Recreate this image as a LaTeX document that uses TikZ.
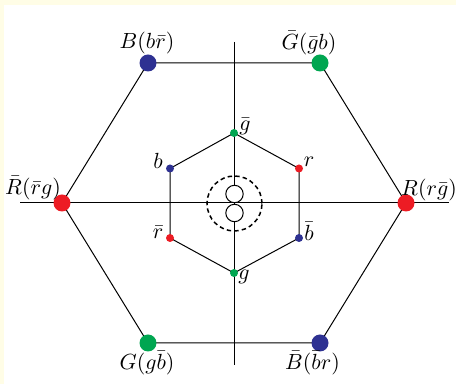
\documentclass[tikz,border=0pt]{standalone}
\definecolor{qred}{RGB}{237,28,36}
\definecolor{qblue}{RGB}{46,49,146}
\definecolor{qgreen}{RGB}{0,166,81}
\definecolor{cream}{RGB}{255,253,230}
\begin{document}
\begin{tikzpicture}[x=0.5pt,y=-0.5pt,
  bigdot/.style={circle,inner sep=0pt,minimum size=8.5pt},
  smalldot/.style={circle,inner sep=0pt,minimum size=4pt},
  lbl/.style={inner sep=0pt,font=\fontsize{10.8}{13}\selectfont},
  thin line/.style={line width=0.5pt,black},
  ring/.style={line width=0.75pt,black,dash pattern=on 2.2pt off 1.6pt}]
\fill[cream] (0,0) rectangle (456,384);
\fill[white] (4,5.5) rectangle (456,384);
\useasboundingbox (0,0) rectangle (456,384);
% axis ends
\coordinate (axT) at (234,42);
\coordinate (axB) at (234,365);
\coordinate (axL) at (20,203);
\coordinate (axR) at (449,203);
\draw[thin line] (axT) -- (axB);
\draw[thin line] (axL) -- (axR);
% outer hexagon
\coordinate (R) at (406,203);
\coordinate (Gb) at (320,63);
\coordinate (B) at (148,63);
\coordinate (Rb) at (62,203);
\coordinate (G) at (148,343);
\coordinate (Bb) at (320,343);
\draw[thin line] (R) -- (Gb) -- (B) -- (Rb) -- (G) -- (Bb) -- cycle;
% inner hexagon
\coordinate (gb) at (234,133);
\coordinate (r) at (299,168.5);
\coordinate (bb) at (299,238);
\coordinate (g) at (234,273);
\coordinate (rb) at (170,238);
\coordinate (b) at (170,168.5);
\draw[thin line] (gb) -- (r) -- (bb) -- (g) -- (rb) -- (b) -- cycle;
% center
\node[draw,thin line,fill=white,circle,inner sep=0pt,minimum size=8.7pt] (c1) at (234.5,194) {};
\node[draw,thin line,fill=white,circle,inner sep=0pt,minimum size=8.7pt] (c2) at (234.5,213) {};
\node[draw,ring,circle,inner sep=0pt,minimum size=27.5pt] (ring) at (234.5,203.5) {};
% dots
\node[bigdot,fill=qred] (dR) at (R) {};
\node[bigdot,fill=qred] (dRb) at (Rb) {};
\node[bigdot,fill=qblue] (dB) at (B) {};
\node[bigdot,fill=qblue] (dBb) at (Bb) {};
\node[bigdot,fill=qgreen] (dG) at (G) {};
\node[bigdot,fill=qgreen] (dGb) at (Gb) {};
\node[smalldot,fill=qred] (dr) at (r) {};
\node[smalldot,fill=qred] (drb) at (rb) {};
\node[smalldot,fill=qblue] (db) at (b) {};
\node[smalldot,fill=qblue] (dbb) at (bb) {};
\node[smalldot,fill=qgreen] (dg) at (g) {};
\node[smalldot,fill=qgreen] (dgb) at (gb) {};
% labels
\node[lbl] (lB) at (147,43) {$B(b\bar r)$};
\node[lbl] (lGb) at (309,43) {$\bar G(\bar g b)$};
\node[lbl] (lRb) at (33,188) {$\bar R(\bar r g)$};
\node[lbl] (lR) at (429,190) {$R(r\bar g)$};
\node[lbl] (lG) at (147,363) {$G(g\bar b)$};
\node[lbl] (lBb) at (312.5,363) {$\bar B(\bar b r)$};
\node[lbl] (lgb) at (245,126) {$\bar g$};
\node[lbl] (lb) at (158,161) {$b$};
\node[lbl] (lr) at (309,162) {$r$};
\node[lbl] (lrb) at (158,232) {$\bar r$};
\node[lbl] (lbb) at (309,231) {$\bar b$};
\node[lbl] (lg) at (244,277) {$g$};
\end{tikzpicture}
\end{document}
